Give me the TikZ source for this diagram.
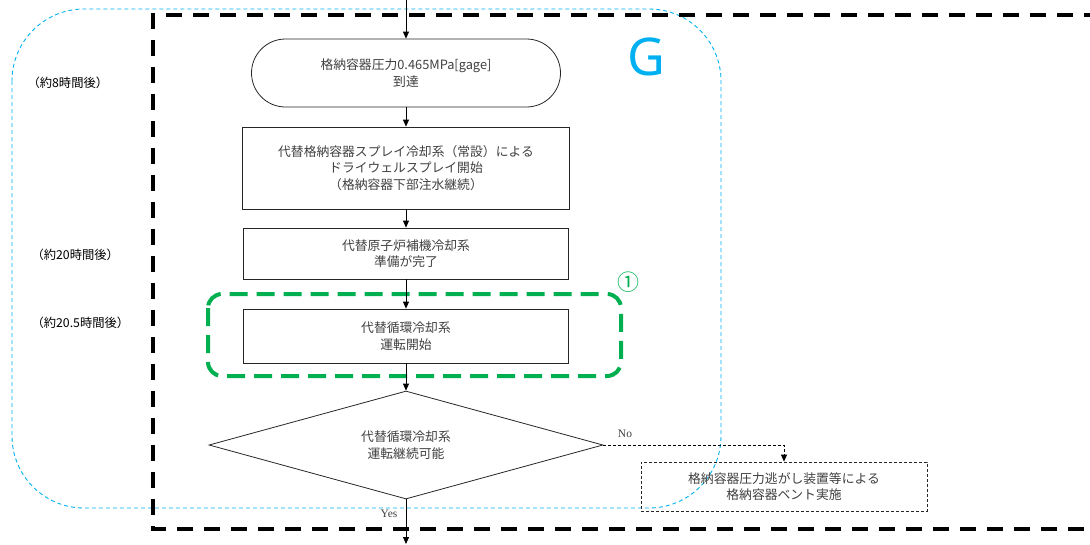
\documentclass[tikz,border=0pt]{standalone}
\usepackage{fontspec}
\usetikzlibrary{arrows.meta,shapes.geometric}
\newfontfamily\jp{Noto Sans CJK JP}
\newfontfamily\nsans{Noto Sans}
\setmainfont{Liberation Serif}
\definecolor{txtgray}{HTML}{404040}
\definecolor{gblue}{HTML}{00B0F0}
\definecolor{ggreen}{HTML}{00B050}
\tikzset{
  flowbox/.style={draw=black!85, line width=0.8pt, rectangle, inner sep=0pt, align=center,
    text=txtgray, font=\jp\fontsize{12.8}{16.5}\selectfont},
  flowarrow/.style={draw=black, line width=0.8pt, -{Triangle[length=7pt,width=6pt]}},
  timelabel/.style={anchor=west, text=black, font=\jp\fontsize{12.3}{14}\selectfont},
}
\begin{document}
\begin{tikzpicture}[x=1pt,y=-1pt]
\useasboundingbox (0,0) rectangle (1090,544);
% blue group
\draw[gblue, line width=0.9pt, dash pattern=on 4pt off 3pt, rounded corners=72pt] (12,9) rectangle (721,508);
% black thick dashed frame
\begin{scope}
\clip (0,0) rectangle (1090,544);
\draw[black, line width=3.5pt, dash pattern=on 16pt off 11pt] (1100,15) -- (153,15) -- (153,529) -- (1100,529);
\end{scope}
% green highlight
\draw[ggreen, line width=4pt, dash pattern=on 18pt off 9pt, rounded corners=14pt] (208,294) rectangle (621,376);
% nodes
\coordinate (top) at (406,0);
\node[flowbox, rounded corners=34pt, minimum width=309pt, minimum height=68pt] (n1) at (406,73)
  {格納容器圧力0.465MPa[gage]\\到達};
\node[flowbox, minimum width=327pt, minimum height=82pt] (n2) at (406,168)
  {代替格納容器スプレイ冷却系（常設）による\\ドライウェルスプレイ開始\\（格納容器下部注水継続）};
\node[flowbox, minimum width=325pt, minimum height=51pt] (n3) at (406,253.5)
  {代替原子炉補機冷却系\\準備が完了};
\node[flowbox, minimum width=325pt, minimum height=54pt] (n4) at (406,336)
  {代替循環冷却系\\運転開始};
\node[flowbox, diamond, shape aspect=3.65, minimum width=394pt, minimum height=108pt] (d) at (406,445)
  {代替循環冷却系\\運転継続可能};
\node[flowbox, dash pattern=on 3pt off 2pt, minimum width=286pt, minimum height=49pt] (n5) at (784,486.5)
  {格納容器圧力逃がし装置等による\\格納容器ベント実施};
\coordinate (bot) at (406,544);
\coordinate (nocorner) at (784,445);
% connectors
\draw[flowarrow] (top) -- (n1.north);
\draw[flowarrow] (n1.south) -- (n2.north);
\draw[flowarrow] (n2.south) -- (n3.north);
\draw[flowarrow] (n3.south) -- (n4.north);
\draw[flowarrow] (n4.south) -- (d.north);
\draw[flowarrow] (d.south) -- (bot);
\draw[flowarrow, dash pattern=on 3pt off 2pt] (d.east) -- (nocorner) -- (n5.north);
% labels
\node[text=txtgray, font=\fontsize{11.5}{13}\selectfont] (yes) at (389,514) {Yes};
\node[text=txtgray, font=\fontsize{11.5}{13}\selectfont] (no) at (625,434) {No};
\node[timelabel] (t1) at (24,83) {（約8時間後）};
\node[timelabel] (t2) at (28,255) {（約20時間後）};
\node[timelabel] (t3) at (28,323) {（約20.5時間後）};
\node[text=gblue, font=\nsans\fontsize{52}{52}\selectfont] (G) at (646,57) {G};
\node[text=ggreen, font=\jp\fontsize{22}{22}\selectfont] (c1) at (628,282) {①};
\end{tikzpicture}
\end{document}
